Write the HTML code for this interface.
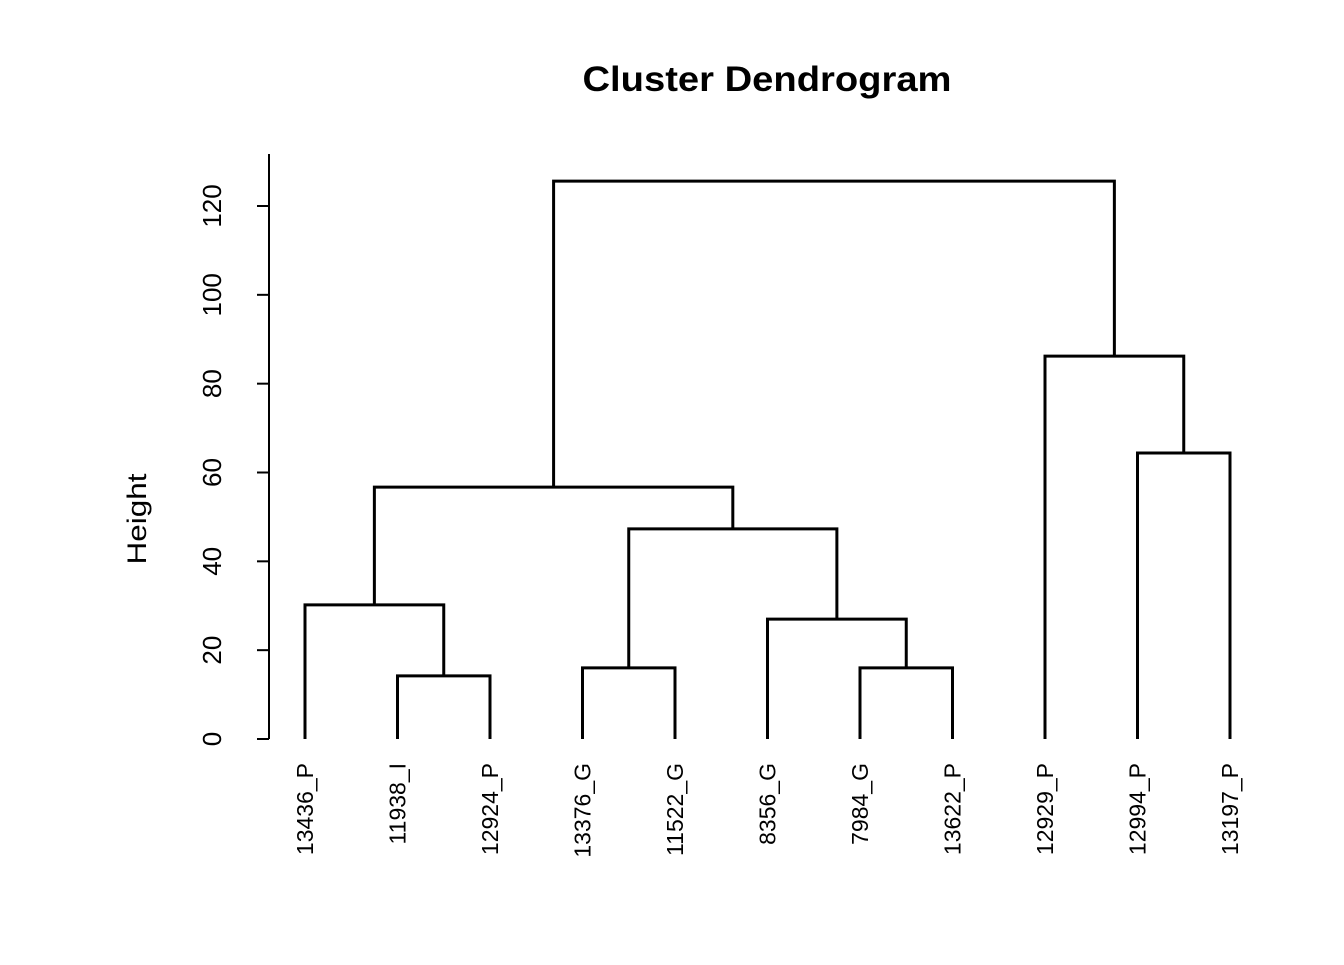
<!DOCTYPE html>
<html><head><meta charset="utf-8"><style>
body{margin:0;background:#fff;}
svg text{font-family:"Liberation Sans",Arial,sans-serif;fill:#000;}
</style></head><body>
<svg id="chart" width="1344" height="960" xmlns="http://www.w3.org/2000/svg">
<text x="767" y="91" font-size="35" font-weight="bold" text-anchor="middle" textLength="369" lengthAdjust="spacingAndGlyphs">Cluster Dendrogram</text>
<text transform="translate(146,519) rotate(-90)" font-size="27" text-anchor="middle" textLength="91" lengthAdjust="spacingAndGlyphs">Height</text>
<g id="axis"></g>
<g id="tree"></g>
<g id="labels"></g>
</svg>
<script>
const leaves = ["13436_P","11938_I","12924_P","13376_G","11522_G","8356_G","7984_G","13622_P","12929_P","12994_P","13197_P"];
// merges: negative = leaf index (1-based), positive = merge index (1-based)
const mergeLeft = [-2, -1, -4, -7, -6, 3, 2, -10, -9, 7];
const mergeRight = [-3, 1, -5, -8, 4, 5, 6, -11, 8, 9];
const mergeHeight = [14.2, 30.2, 16.0, 16.0, 27.0, 47.3, 56.7, 64.4, 86.2, 125.6];
const yTicks = [0, 20, 40, 60, 80, 100, 120];

const NS = "http://www.w3.org/2000/svg";
const xs = i => 305 + (i - 1) * 92.5;
const ys = v => 739 - v * 4.4417;
function el(tag, attrs, parent){const e=document.createElementNS(NS,tag);for(const k in attrs)e.setAttribute(k,attrs[k]);parent.appendChild(e);return e;}

const axis = document.getElementById('axis');
const a = el('line',{x1:269,x2:269,y1:ys(0),y2:154,stroke:'#000','stroke-width':2},axis);


yTicks.forEach(t=>{
  const l = el('line',{x1:257,x2:269,y1:ys(t),y2:ys(t),stroke:'#000','stroke-width':2},axis);
  
  
  const tx = el('text',{transform:`translate(221,${ys(t)}) rotate(-90)`,'font-size':26,'text-anchor':'middle'},axis);
  tx.textContent = t;
  
  
});

const tree = document.getElementById('tree');
const pos = [], hgt = [];
function node(k){ return k < 0 ? [xs(-k), 0] : [pos[k-1], hgt[k-1]]; }
mergeLeft.forEach((L,i)=>{
  const [x1,h1] = node(L), [x2,h2] = node(mergeRight[i]);
  const h = mergeHeight[i];
  pos[i] = (x1 + x2) / 2; hgt[i] = h;
  const p = el('path',{d:`M${x1},${ys(h1)}V${ys(h)}H${x2}V${ys(h2)}`,fill:'none',stroke:'#000','stroke-width':3},tree);
  
  
});

const labels = document.getElementById('labels');
leaves.forEach((s,i)=>{
  const t = el('text',{transform:`translate(${xs(i+1)+8},763) rotate(-90)`,'font-size':23,'text-anchor':'end'},labels);
  t.textContent = s;
  
  
});
</script>
</body></html>
